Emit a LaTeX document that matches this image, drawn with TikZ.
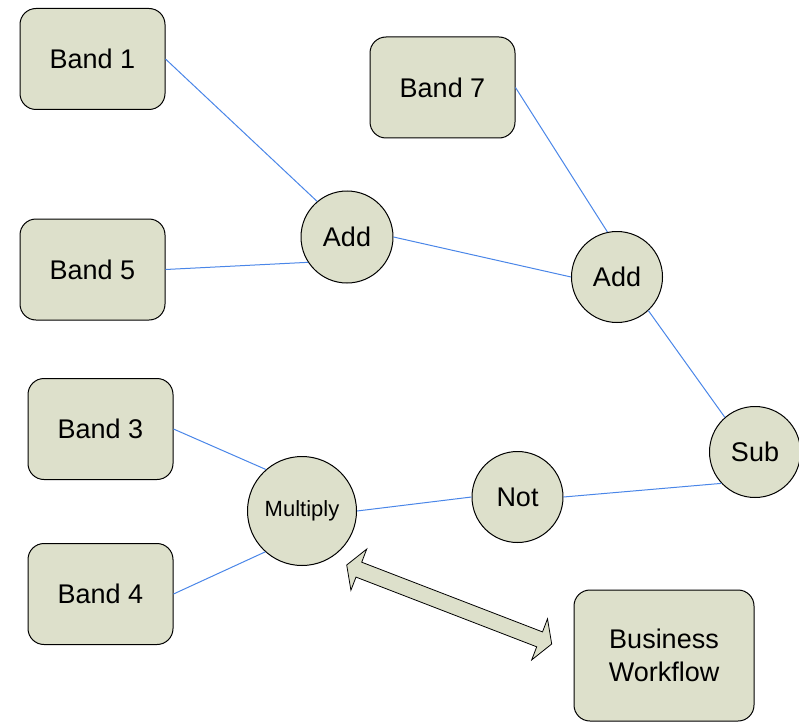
\documentclass[tikz,border=0pt]{standalone}
\usepackage{fontspec}
\setmainfont{Liberation Sans}
\definecolor{boxfill}{HTML}{DDE0CB}
\definecolor{linkblue}{HTML}{4A86E8}
\begin{document}
\begin{tikzpicture}[x=1pt,y=-1pt,
  band/.style={draw=black,line width=1pt,fill=boxfill,rounded corners=16pt,
    minimum width=145pt,minimum height=101pt,inner sep=0pt,
    font=\fontsize{27}{33.5}\selectfont,align=center},
  op/.style={draw=black,line width=1pt,fill=boxfill,circle,inner sep=0pt,
    minimum size=91pt,font=\fontsize{27}{33.5}\selectfont},
  link/.style={draw=linkblue,line width=1pt}]
\useasboundingbox (0,0) rectangle (799,722);

% input bands
\node[band] (b1) at (92.5,59) {Band 1};
\node[band] (b5) at (92.5,269.5) {Band 5};
\node[band] (b7) at (442.5,87.5) {Band 7};
\node[band] (b3) at (100.5,429) {Band 3};
\node[band] (b4) at (100.5,594) {Band 4};
\node[band,minimum width=180pt,minimum height=131pt] (bw) at (664,655.5) {Business\\Workflow};

% operators
\node[op,minimum size=92pt] (add1) at (347,237) {Add};
\node[op] (add2) at (617,277) {Add};
\node[op] (sub) at (755,452) {Sub};
\node[op] (not) at (517.5,497) {Not};
\node[op,minimum size=109pt,font=\fontsize{22}{26}\selectfont] (mul) at (302,511) {Multiply};

% links
\draw[link] (b1.east) -- (add1.130);
\draw[link] (b5.east) -- (add1.213);
\draw[link] (add1.east) -- (add2.west);
\draw[link] (b7.east) -- (add2.102);
\draw[link] (add2.313) -- (sub.131);
\draw[link] (b3.east) -- (mul.131);
\draw[link] (b4.east) -- (mul.228);
\draw[link] (mul.east) -- (not.west);
\draw[link] (not.east) -- (sub.223);

% two-headed block arrow
\draw[black,line width=0.8pt,fill=boxfill,line join=miter]
  (346.7,565) -- (366.7,549.1) -- (361.7,562.2) -- (542.5,631.9)
  -- (547.5,618.8) -- (551.7,644) -- (531.7,659.9) -- (536.7,646.8)
  -- (356,577.1) -- (350.9,590.2) -- cycle;
\end{tikzpicture}
\end{document}
